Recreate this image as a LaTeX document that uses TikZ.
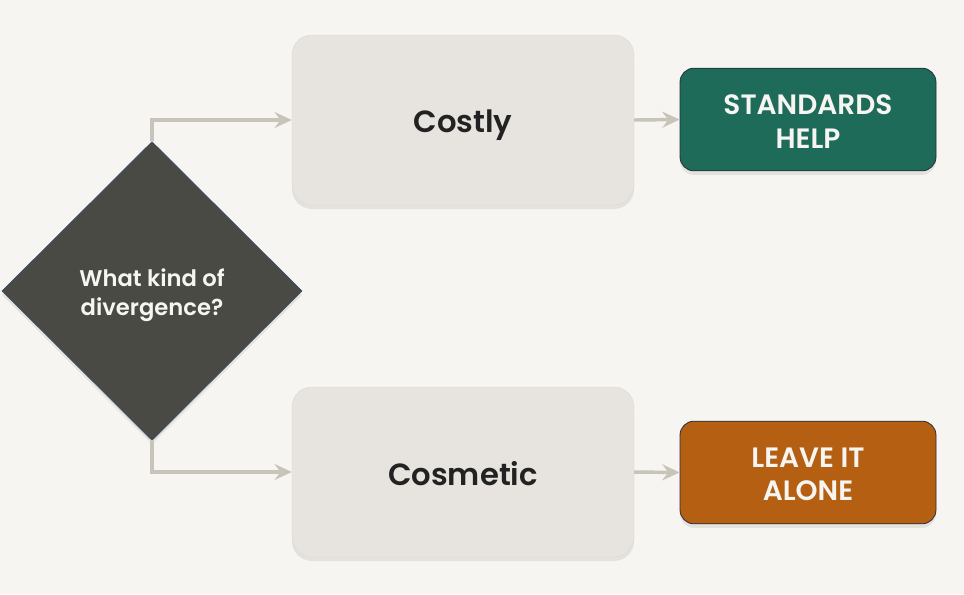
\documentclass[tikz,border=0pt]{standalone}
\usepackage{fontspec}
\setmainfont{Poppins}[BoldFont={* SemiBold}]
\usetikzlibrary{shapes.geometric,arrows.meta,shadows}
\definecolor{bg}{HTML}{F6F5F2}
\definecolor{dia}{HTML}{4A4A45}
\definecolor{diaedge}{HTML}{3E4A66}
\definecolor{grey}{HTML}{E7E4DF}
\definecolor{greyedge}{HTML}{DDD9D2}
\definecolor{green}{HTML}{1E6B5A}
\definecolor{orange}{HTML}{B55F12}
\definecolor{arr}{HTML}{C8C4BA}
\definecolor{txt}{HTML}{222222}
\definecolor{light}{HTML}{F6F5F2}
\newcommand{\dn}[2]{\raisebox{-#1}[\height][\depth]{#2}}
\tikzset{
  shade/.style={drop shadow={opacity=0.16,shadow xshift=0pt,shadow yshift=-3pt}},
  decision/.style={diamond,aspect=1,minimum width=225pt,minimum height=224pt,inner sep=0pt,
    fill=dia,draw=diaedge,line width=0.6pt,shade,text=light,align=center,
    font=\fontsize{17}{22}\selectfont\bfseries},
  choice/.style={rectangle,rounded corners=15pt,minimum width=256.5pt,minimum height=127.5pt,
    fill=grey,draw=greyedge,line width=0.3pt,shade,text=txt,font=\fontsize{23}{28}\selectfont\bfseries},
  outcome/.style={rectangle,rounded corners=10.5pt,minimum width=192pt,minimum height=77pt,
    draw=diaedge!60!black,line width=0.6pt,shade,text=light,align=center,
    font=\fontsize{21}{25}\selectfont\bfseries},
  link/.style={draw=arr,line width=2.6pt,-{Stealth[length=13pt,width=12pt,inset=4.5pt]}}
}
\begin{document}
\begin{tikzpicture}[x=0.75pt,y=-0.75pt]
\fill[bg] (0,0) rectangle (964,594);
\useasboundingbox (0,0) rectangle (964,594);
\node[choice] (costly) at (463,120) {\dn{3.5pt}{Costly}};
\node[choice] (cosm) at (463,472) {\dn{1.5pt}{Cosmetic}};
\node[outcome,fill=green] (std) at (808,119.5) {\dn{1.5pt}{STANDARDS}\\\dn{1.5pt}{HELP}};
\node[outcome,fill=orange] (leave) at (808,472.5) {\dn{1.5pt}{LEAVE IT}\\\dn{1.5pt}{ALONE}};
\node[decision] (q) at (152,291) {\dn{3pt}{What kind of}\\\dn{3pt}{divergence?}};
\draw[link] (q.north) |- (costly.west);
\draw[link] (q.south) |- (cosm.west);
\draw[link] (costly.east) -- (std.west);
\draw[link] (cosm.east) -- (leave.west);
\end{tikzpicture}
\end{document}
